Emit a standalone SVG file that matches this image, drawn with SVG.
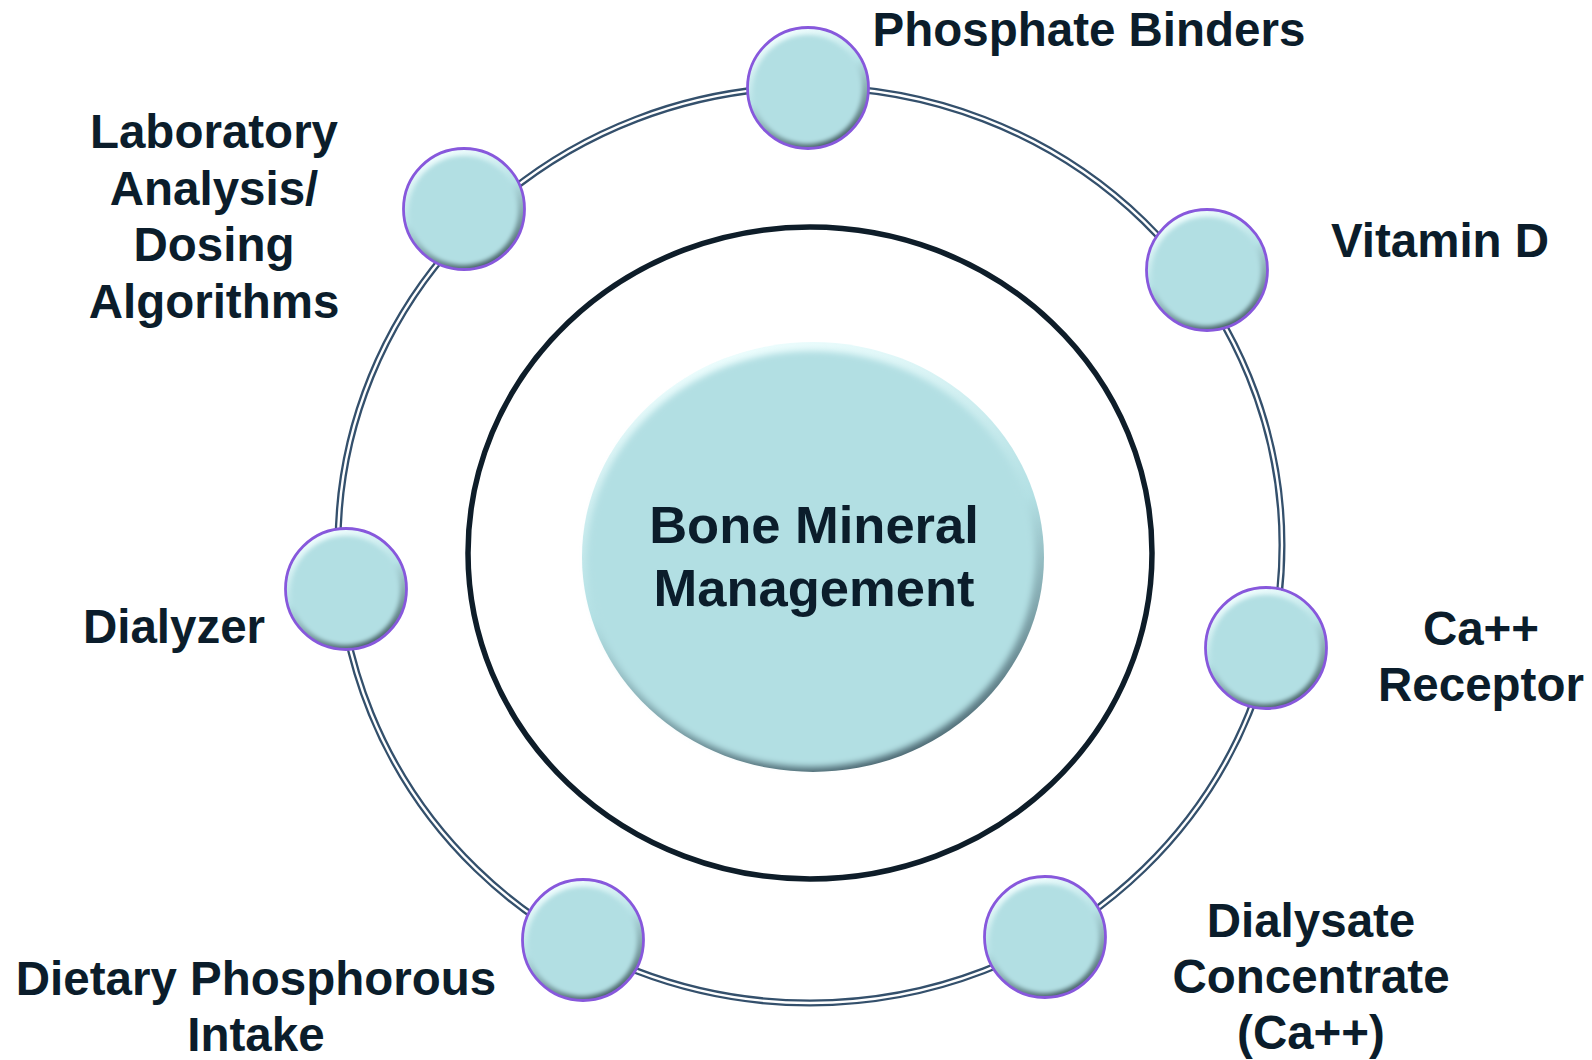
<svg xmlns="http://www.w3.org/2000/svg" xmlns:xlink="http://www.w3.org/1999/xlink" width="1592" height="1060" viewBox="0 0 1592 1060">
<defs>
<style>
text{font-family:"Liberation Sans",Arial,sans-serif;font-weight:bold;fill:#0b1d2b;text-anchor:middle}
.lbl{font-size:47.5px}
.ctr{font-size:52.5px}
.ringOut{fill:none;stroke:#34506c;stroke-width:7}
.ringGap{fill:none;stroke:#ffffff;stroke-width:2.4}
.ringIn{fill:none;stroke:#0e1d29;stroke-width:5.5}
</style>
<linearGradient id="rim" x1="0.3" y1="0" x2="0.7" y2="1">
<stop offset="0" stop-color="#f4ffff"/>
<stop offset="0.45" stop-color="#b6e2e6"/>
<stop offset="1" stop-color="#415c61"/>
</linearGradient>
<linearGradient id="rimC" x1="0.35" y1="0" x2="0.65" y2="1">
<stop offset="0" stop-color="#eefefe"/>
<stop offset="0.5" stop-color="#b3e0e4"/>
<stop offset="1" stop-color="#4a6670"/>
</linearGradient>
<filter id="soft" x="-10%" y="-10%" width="120%" height="120%">
<feGaussianBlur stdDeviation="2"/>
</filter>
<filter id="softC" x="-10%" y="-10%" width="120%" height="120%">
<feGaussianBlur stdDeviation="3"/>
</filter>
<g id="ball">
<circle r="60" fill="url(#rim)"/>
<circle cx="-0.5" cy="1.5" r="54.5" fill="#b2dfe3" filter="url(#soft)"/>
<circle r="60.5" fill="none" stroke="#8758dc" stroke-width="2.8"/>
</g>
</defs>

<g id="connectors">
<ellipse class="ringOut" cx="810" cy="545" rx="472" ry="458"/>
<ellipse class="ringGap" cx="810" cy="545" rx="472" ry="458"/>
<ellipse class="ringIn" cx="810" cy="553" rx="342" ry="326"/>
</g>

<g id="center">
<ellipse cx="813" cy="557" rx="231" ry="215" fill="url(#rimC)"/>
<ellipse cx="811" cy="559" rx="224" ry="208" fill="#b2dfe3" filter="url(#softC)"/>
<text class="ctr" x="814" y="543">Bone Mineral</text>
<text class="ctr" x="814" y="606">Management</text>
</g>

<g id="phosphate-binders">
<use xlink:href="#ball" x="808" y="88"/>
<text class="lbl" x="1089" y="46">Phosphate Binders</text>
</g>

<g id="vitamin-d">
<use xlink:href="#ball" x="1207" y="270"/>
<text class="lbl" x="1440" y="257">Vitamin D</text>
</g>

<g id="ca-receptor">
<use xlink:href="#ball" x="1266" y="648"/>
<text class="lbl" x="1481" y="645">Ca++</text>
<text class="lbl" x="1481" y="701">Receptor</text>
</g>

<g id="dialysate">
<use xlink:href="#ball" x="1045" y="937"/>
<text class="lbl" x="1311" y="937">Dialysate</text>
<text class="lbl" x="1311" y="993">Concentrate</text>
<text class="lbl" x="1311" y="1049">(Ca++)</text>
</g>

<g id="dietary">
<use xlink:href="#ball" x="583" y="940"/>
<text class="lbl" x="256" y="995">Dietary Phosphorous</text>
<text class="lbl" x="256" y="1051">Intake</text>
</g>

<g id="dialyzer">
<use xlink:href="#ball" x="346" y="589"/>
<text class="lbl" x="174" y="643">Dialyzer</text>
</g>

<g id="laboratory">
<use xlink:href="#ball" x="464" y="209"/>
<text class="lbl" x="214" y="148">Laboratory</text>
<text class="lbl" x="214" y="205">Analysis/</text>
<text class="lbl" x="214" y="261">Dosing</text>
<text class="lbl" x="214" y="318">Algorithms</text>
</g>
</svg>
